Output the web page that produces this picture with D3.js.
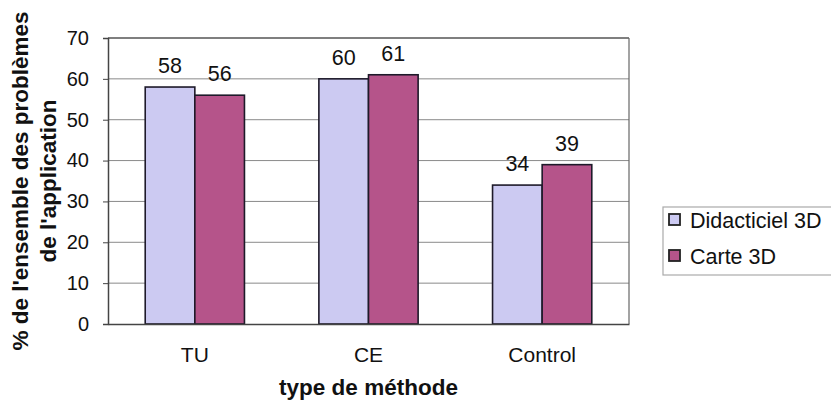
<!DOCTYPE html>
<html><head><meta charset="utf-8">
<script src="https://cdn.jsdelivr.net/npm/d3@7"></script>
<style>body{margin:0;background:#fff}svg{display:block}text{font-family:"Liberation Sans",Arial,sans-serif;fill:#111}</style>
</head><body><svg id="c" width="831" height="406"></svg>
<script>
const categories = ["TU", "CE", "Control"];
const seriesNames = ["Didacticiel 3D", "Carte 3D"];
const didacticiel = [58, 60, 34];
const carte = [56, 61, 39];
const yTicks = [0, 10, 20, 30, 40, 50, 60, 70];
const colors = ["#cccaf2", "#b5548a"];

const svg = d3.select("#c");
const L = 108, R = 629, T = 38, B = 324;
const x0 = d3.scaleBand().domain(categories).range([L, R]).padding(0);
const x1 = d3.scaleBand().domain(seriesNames).range([0, x0.bandwidth()]).paddingInner(0).paddingOuter(0.75);
const y = d3.scaleLinear().domain([0, 70]).range([B, T]);
const values = [didacticiel, carte];

// gridlines
svg.append("g").selectAll("line").data(yTicks.filter(d => d > 0)).join("line")
  .attr("x1", L).attr("x2", R).attr("y1", d => y(d)).attr("y2", d => y(d))
  .attr("stroke", d => d === 70 ? "#555" : "#8a8a8a").attr("stroke-width", d => d === 70 ? 1.5 : 1);
// right border
svg.append("line").attr("x1", R).attr("x2", R).attr("y1", T).attr("y2", B).attr("stroke", "#666").attr("stroke-width", 1.2);

// y axis
const ya = svg.append("g").attr("transform", `translate(${L},0)`)
  .call(d3.axisLeft(y).tickValues(yTicks).tickSize(5).tickPadding(14));
ya.select(".domain").attr("stroke", "#444").attr("stroke-width", 1.5);
ya.selectAll(".tick line").attr("stroke", "#444");
ya.selectAll("text").attr("font-size", 20).attr("fill", "#222").style("font-family", '"Liberation Sans",Arial,sans-serif');

// bars
const groups = svg.append("g").selectAll("g").data(categories).join("g")
  .attr("transform", d => `translate(${x0(d)},0)`);
groups.selectAll("rect").data((c, i) => seriesNames.map((s, k) => ({s, k, v: values[k][i]}))).join("rect")
  .attr("x", d => x1(d.s)).attr("width", x1.bandwidth())
  .attr("y", d => y(d.v)).attr("height", d => y(0) - y(d.v))
  .attr("fill", d => colors[d.k]).attr("stroke", "#1e1a2a").attr("stroke-width", 1.6);
groups.selectAll("text").data((c, i) => seriesNames.map((s, k) => ({s, k, v: values[k][i]}))).join("text")
  .attr("x", d => x1(d.s) + x1.bandwidth() / 2).attr("y", d => y(d.v) - 14)
  .attr("text-anchor", "middle").attr("font-size", 21.5).attr("fill", "#222").text(d => d.v);

// x axis
const xa = svg.append("g").attr("transform", `translate(0,${B})`)
  .call(d3.axisBottom(x0).tickSize(0).tickPadding(23));
xa.select(".domain").attr("stroke", "#444").attr("stroke-width", 1.5);
xa.selectAll("text").attr("font-size", 21).attr("fill", "#222").style("font-family", '"Liberation Sans",Arial,sans-serif');

// axis titles
svg.append("text").attr("x", (L + R) / 2).attr("y", 395).attr("text-anchor", "middle")
  .attr("font-size", 22.5).attr("font-weight", "bold").text("type de méthode");
const yt = svg.append("text").attr("transform", `translate(0,${(T + B) / 2}) rotate(-90)`)
  .attr("text-anchor", "middle").attr("font-size", 22.5).attr("font-weight", "bold");
yt.append("tspan").attr("x", 0).attr("y", 28).text("% de l'ensemble des problèmes");
yt.append("tspan").attr("x", 0).attr("y", 56).text("de l'application");

// legend
const lg = svg.append("g");
lg.append("rect").attr("x", 663).attr("y", 207).attr("width", 200).attr("height", 68)
  .attr("fill", "#fff").attr("stroke", "#aaa").attr("stroke-width", 1.2);
seriesNames.forEach((s, k) => {
  const cy = 220 + k * 36;
  lg.append("rect").attr("x", 669).attr("y", cy - 6).attr("width", 11).attr("height", 11)
    .attr("fill", colors[k]).attr("stroke", "#222").attr("stroke-width", 1.8);
  lg.append("text").attr("x", 690).attr("y", cy + 8).attr("font-size", 21.5).attr("fill", "#222").text(s);
});
</script></body></html>
